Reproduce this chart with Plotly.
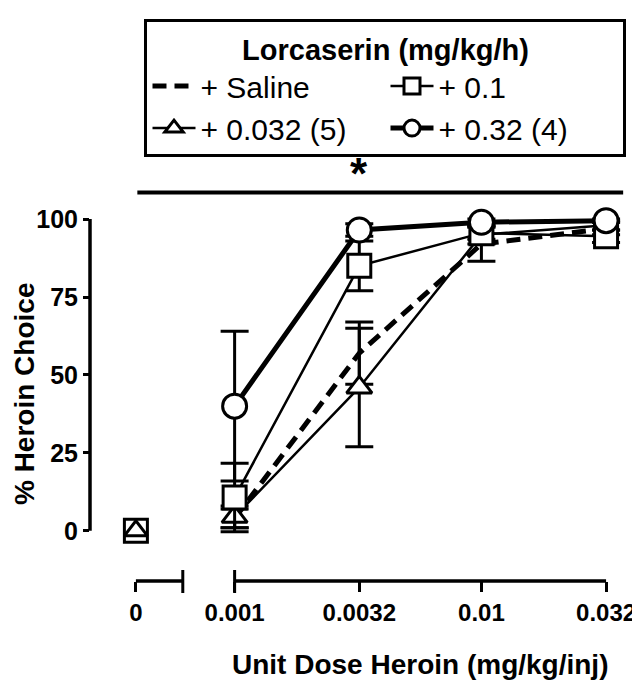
import math
import plotly.graph_objects as go

# ---------------- data ----------------
doses = [0.001, 0.0032, 0.01, 0.032]
dose_labels = ["0.001", "0.0032", "0.01", "0.032"]
zero_label = "0"

saline_y = [4, 57, 92, 97]
saline_err = [3, 10, 5.5, 2]

lor0032_zero = [0]
lor0032_y = [4.5, 46, 95, 98]
lor0032_err = [3.5, 19, 3, 1.5]

lor01_zero = [0]
lor01_y = [10.7, 85, 95.5, 94.5]
lor01_err = [11, 8, 2, 2]

lor032_y = [40, 96.5, 99, 99.5]
lor032_err = [24, 2, 1, 0.5]

y_ticks = [0, 25, 50, 75, 100]

# ---------------- layout constants ----------------
FONT = "Liberation Sans, Arial, sans-serif"
ZERO_POS = 10 ** -3.4      # where the "0" dose is drawn on the log axis
BREAK_END = 10 ** -3.21    # end of the short axis segment after "0"
X_RANGE = [-3.586, -1.406]
Y_RANGE = [-16.1, 118.0]

fig = go.Figure()

def err(arr):
    return dict(type="data", array=arr, visible=True, thickness=3, width=14, color="black")

# saline: dashed line, no markers
fig.add_trace(go.Scatter(
    x=doses, y=saline_y, mode="lines", name="+ Saline",
    line=dict(color="black", width=5, dash="14px,8px"),
    error_y=err(saline_err), legendrank=1))

# lorcaserin 0.032
fig.add_trace(go.Scatter(
    x=doses, y=lor0032_y, mode="lines+markers", name="+ 0.032 (5)",
    line=dict(color="black", width=2.5),
    marker=dict(symbol="triangle-up", size=22, color="white", line=dict(color="black", width=3)),
    error_y=err(lor0032_err), legendrank=3))

# lorcaserin 0.1
fig.add_trace(go.Scatter(
    x=doses, y=lor01_y, mode="lines+markers", name="+ 0.1",
    line=dict(color="black", width=2.5),
    marker=dict(symbol="square", size=23, color="white", line=dict(color="black", width=3)),
    error_y=err(lor01_err), legendrank=2))

# lorcaserin 0.32
fig.add_trace(go.Scatter(
    x=doses, y=lor032_y, mode="lines+markers", name="+ 0.32 (4)",
    line=dict(color="black", width=5),
    marker=dict(symbol="circle", size=24, color="white", line=dict(color="black", width=3)),
    error_y=err(lor032_err), legendrank=4))

# zero-dose points (not connected)
fig.add_trace(go.Scatter(
    x=[ZERO_POS], y=lor01_zero, mode="markers", showlegend=False,
    marker=dict(symbol="square", size=23, color="white", line=dict(color="black", width=3))))
fig.add_trace(go.Scatter(
    x=[ZERO_POS], y=lor0032_zero, mode="markers", showlegend=False,
    marker=dict(symbol="triangle-up", size=20, color="rgba(0,0,0,0)", line=dict(color="black", width=3))))

shapes = []
# x axis segments
shapes.append(dict(type="line", xref="x", yref="paper", x0=ZERO_POS, x1=BREAK_END, y0=0, y1=0,
                   line=dict(color="black", width=3.5)))
shapes.append(dict(type="line", xref="x", yref="paper", x0=doses[0], x1=doses[-1], y0=0, y1=0,
                   line=dict(color="black", width=3.5)))
# break-end ticks extending up and down
for xv in [BREAK_END, doses[0]]:
    shapes.append(dict(type="line", xref="x", yref="paper", ysizemode="pixel", yanchor=0,
                       x0=xv, x1=xv, y0=-12, y1=11, line=dict(color="black", width=3)))
# y axis line from 0 to 100
shapes.append(dict(type="line", xref="paper", yref="y", x0=0, x1=0, y0=y_ticks[0], y1=y_ticks[-1],
                   line=dict(color="black", width=3.5)))
# significance bar
shapes.append(dict(type="line", xref="paper", yref="y", x0=0.088, x1=0.991, y0=108.5, y1=108.5,
                   line=dict(color="black", width=4)))

annotations = [
    dict(text="*", xref="x", yref="y", x=math.log10(doses[1]), y=106, showarrow=False,
         font=dict(family=FONT, size=44, color="black", weight="bold"), yanchor="bottom"),
    dict(text="% Heroin Choice", xref="paper", yref="y", x=-0.122, y=44, textangle=-90,
         showarrow=False, font=dict(family=FONT, size=28, color="black", weight="bold"),
         xanchor="center", yanchor="middle"),
    dict(text="Unit Dose Heroin (mg/kg/inj)", xref="x", yref="paper",
         x=(math.log10(doses[0]) + math.log10(doses[-1])) / 2, y=-0.2,
         showarrow=False, font=dict(family=FONT, size=28, color="black", weight="bold"),
         xanchor="center", yanchor="middle"),
]

fig.update_layout(
    width=640, height=686,
    margin=dict(l=82, r=15, t=148, b=113),
    paper_bgcolor="white", plot_bgcolor="white",
    font=dict(family=FONT, color="black"),
    xaxis=dict(type="log", range=X_RANGE, showgrid=False, zeroline=False, showline=False,
               tickmode="array", tickvals=[ZERO_POS] + doses, ticktext=[zero_label] + dose_labels,
               ticks="outside", ticklen=10, tickwidth=3, tickcolor="black",
               tickfont=dict(family=FONT, size=24, color="black", weight="bold")),
    yaxis=dict(range=Y_RANGE, showgrid=False, zeroline=False, showline=False,
               tickmode="array", tickvals=y_ticks,
               ticks="outside", ticklen=6, tickwidth=3, tickcolor="black",
               tickfont=dict(family=FONT, size=25, color="black", weight="bold")),
    showlegend=True,
    legend=dict(orientation="h", x=0.1013, xanchor="left", y=1.3435, yanchor="top",
                entrywidth=180, entrywidthmode="pixels", itemwidth=43,
                bordercolor="black", borderwidth=3, bgcolor="white",
                font=dict(family=FONT, size=30, color="black"),
                title=dict(text="Lorcaserin (mg/kg/h)", side="top center",
                           font=dict(family=FONT, size=29, color="black", weight="bold"))),
    shapes=shapes, annotations=annotations,
)

fig.write_html("out.html")
